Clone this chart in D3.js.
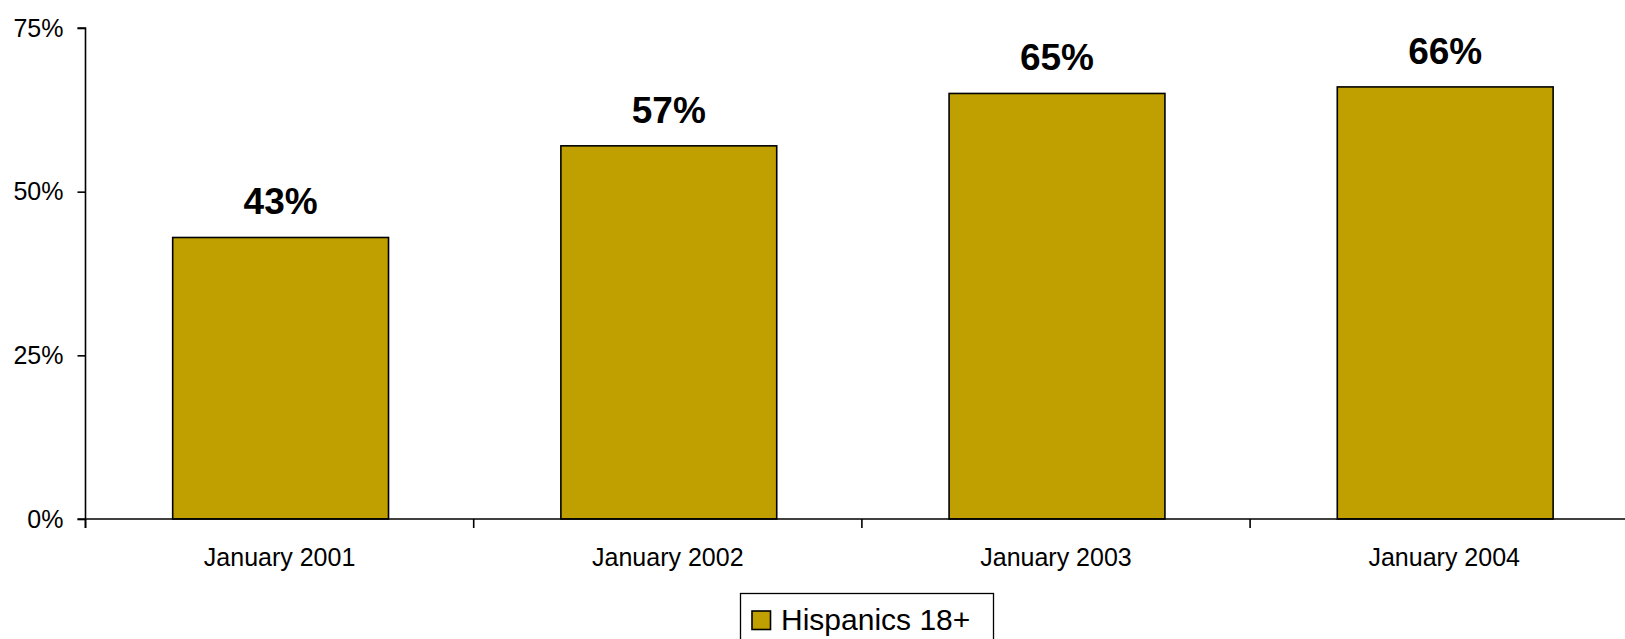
<!DOCTYPE html>
<html>
<head>
<meta charset="utf-8">
<script src="https://cdn.jsdelivr.net/npm/d3@7"></script>
<style>
  html, body { margin: 0; padding: 0; background: #fff; overflow: hidden; }
  svg { display: block; font-family: "Liberation Sans", Arial, sans-serif; }
</style>
</head>
<body>
<svg id="chart" width="1625" height="639"></svg>
<script>
const categories = ["January 2001", "January 2002", "January 2003", "January 2004"];
const values = [43, 57, 65, 66];
const seriesName = "Hispanics 18+";
const yTicks = [0, 25, 50, 75];

const svg = d3.select("#chart");
const x0 = 85.5, step = 388.2;
const yBottom = 519, yTop = 28;

const x = d3.scaleBand().domain(categories).range([x0, x0 + step * categories.length]).padding(0);
const y = d3.scaleLinear().domain([0, 75]).range([yBottom, yTop]);
const barW = x.bandwidth() * 0.556;
const fill = "#c0a000";

// bars
svg.selectAll("rect.bar").data(values).enter().append("rect")
  .attr("class", "bar")
  .attr("x", (d, i) => x(categories[i]) + (x.bandwidth() - barW) / 2 + 1)
  .attr("y", d => y(d))
  .attr("width", barW)
  .attr("height", d => y(0) - y(d))
  .attr("fill", fill)
  .attr("stroke", "#000")
  .attr("stroke-width", 1.6);

// value labels
svg.selectAll("text.val").data(values).enter().append("text")
  .attr("class", "val")
  .attr("x", (d, i) => x(categories[i]) + x.bandwidth() / 2 + 1)
  .attr("y", d => y(d) - 23)
  .attr("text-anchor", "middle")
  .attr("font-weight", "bold")
  .attr("font-size", 37)
  .attr("fill", "#000")
  .text(d => d + "%");

// y axis
const yAxis = d3.axisLeft(y).tickValues(yTicks).tickFormat(d => d + "%").tickSize(8).tickPadding(14);
const gy = svg.append("g").attr("transform", `translate(${x0},0)`).call(yAxis);
gy.select(".domain").attr("stroke", "#000").attr("stroke-width", 1.6).attr("d", `M-8,${yTop}H0V${yBottom + 9}`);
gy.selectAll(".tick line").attr("stroke", "#000").attr("stroke-width", 1.6);
gy.selectAll(".tick text").attr("font-size", 25).attr("fill", "#000")
  .attr("font-family", "Liberation Sans, Arial, sans-serif");

// x axis
const gx = svg.append("g");
gx.append("line").attr("x1", x0 - 8).attr("x2", 1625).attr("y1", yBottom).attr("y2", yBottom)
  .attr("stroke", "#000").attr("stroke-width", 1.6);
const boundaries = categories.map(c => x(c)).concat([x(categories[categories.length - 1]) + x.bandwidth()]);
gx.selectAll("line.tk").data(boundaries).enter().append("line")
  .attr("class", "tk")
  .attr("x1", d => d).attr("x2", d => d)
  .attr("y1", yBottom).attr("y2", yBottom + 9)
  .attr("stroke", "#000").attr("stroke-width", 1.6);
gx.selectAll("text.cat").data(categories).enter().append("text")
  .attr("class", "cat")
  .attr("x", d => x(d) + x.bandwidth() / 2)
  .attr("y", 566)
  .attr("text-anchor", "middle")
  .attr("font-size", 25)
  .attr("fill", "#000")
  .text(d => d);

// legend
const lg = svg.append("g");
lg.append("rect").attr("x", 740.5).attr("y", 593.5).attr("width", 253).attr("height", 60)
  .attr("fill", "#fff").attr("stroke", "#000").attr("stroke-width", 1.3);
lg.append("rect").attr("x", 752).attr("y", 611).attr("width", 18.5).attr("height", 18.5)
  .attr("fill", fill).attr("stroke", "#000").attr("stroke-width", 1.6);
lg.append("text").attr("x", 781).attr("y", 630).attr("font-size", 30).attr("fill", "#000").text(seriesName);
</script>
</body>
</html>
